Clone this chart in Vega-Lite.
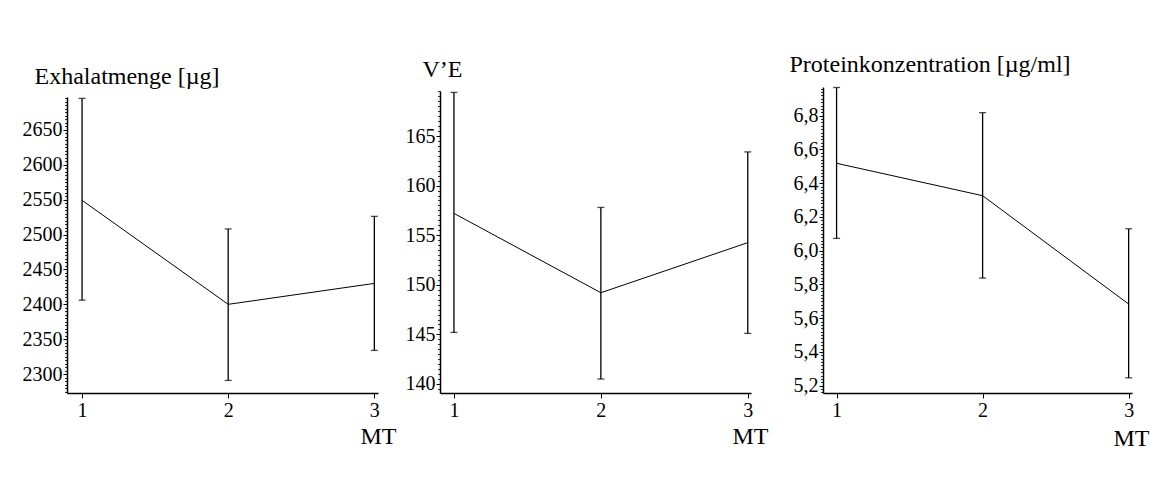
{
  "$schema": "https://vega.github.io/schema/vega-lite/v6.json",
  "background": "white",
  "padding": {"left": 22, "top": 52, "right": 5, "bottom": 5},
  "bounds": "flush",
  "spacing": 62,
  "config": {
    "view": {"stroke": null},
    "axis": {"grid": false, "labelFont": "Liberation Serif", "titleFont": "Liberation Serif", "labelColor": "black", "titleColor": "black", "tickColor": "black", "domainColor": "black", "titleFontWeight": "normal", "labelOverlap": false, "labelBound": false},
    "style": {"guide-label": {"font": "Liberation Serif", "fill": "black"}, "guide-title": {"font": "Liberation Serif", "fill": "black", "fontWeight": "normal"}}
  },
  "datasets": {
    "p1": [
      {"MT": 1, "mean": 2549, "lo": 2406, "hi": 2695},
      {"MT": 2, "mean": 2400, "lo": 2291, "hi": 2508},
      {"MT": 3, "mean": 2430, "lo": 2334, "hi": 2526}
    ],
    "p2": [
      {"MT": 1, "mean": 157.2, "lo": 145.2, "hi": 169.4},
      {"MT": 2, "mean": 149.2, "lo": 140.5, "hi": 157.8},
      {"MT": 3, "mean": 154.25, "lo": 145.1, "hi": 163.4}
    ],
    "p3": [
      {"MT": 1, "mean": 6.518, "lo": 6.073, "hi": 6.967},
      {"MT": 2, "mean": 6.326, "lo": 5.838, "hi": 6.818},
      {"MT": 3, "mean": 5.684, "lo": 5.247, "hi": 6.13}
    ]
  },
  "hconcat": [
    {
      "width": 311, "height": 307,
      "data": {"name": "p1"},
      "resolve": {"axis": {"y": "independent"}},
      "layer": [
        {
          "mark": {"type": "line", "color": "black", "strokeWidth": 1},
          "encoding": {
            "x": {"field": "MT", "type": "quantitative", "scale": {"domain": [0.897, 3.025], "nice": false, "zero": false},
              "axis": {"orient": "bottom", "values": [1, 2, 3], "labelExpr": "format(datum.value, '.0f')", "tickSize": 5, "labelPadding": 2, "labelFont": "Liberation Serif", "labelFontSize": 20, "labelOverlap": false, "domainWidth": 1.5, "title": "MT", "titleFont": "Liberation Serif", "titleFontSize": 24, "titleAlign": "center", "titleBaseline": "alphabetic", "titleX": 311, "titleY": 50, "labelFlush": false}},
            "y": {"field": "mean", "type": "quantitative", "scale": {"domain": [2273, 2697], "nice": false, "zero": false, "range": [307, 11]},
              "axis": {"orient": "left", "values": [2300, 2350, 2400, 2450, 2500, 2550, 2600, 2650], "labelExpr": "format(datum.value, '.0f')", "tickSize": 4, "labelPadding": 1, "labelFont": "Liberation Serif", "labelFontSize": 20, "domainWidth": 1.5, "labelOverlap": false, "title": "Exhalatmenge [µg]", "titleFont": "Liberation Serif", "titleFontSize": 24, "titleAngle": 0, "titleAlign": "left", "titleBaseline": "alphabetic", "titleX": -33, "titleY": -3}}
          }
        },
        {
          "mark": {"type": "rule", "color": "black", "strokeWidth": 1.3},
          "encoding": {
            "x": {"field": "MT", "type": "quantitative"},
            "y": {"field": "lo", "type": "quantitative", "axis": {"orient": "left", "tickCount": 85, "labels": false, "domain": false, "title": null, "tickSize": 2.5, "tickWidth": 0.8}},
            "y2": {"field": "hi"}
          }
        },
        {
          "mark": {"type": "tick", "orient": "horizontal", "color": "black", "size": 7, "thickness": 1.3},
          "encoding": {"x": {"field": "MT", "type": "quantitative"}, "y": {"field": "lo", "type": "quantitative", "axis": null}}
        },
        {
          "mark": {"type": "tick", "orient": "horizontal", "color": "black", "size": 7, "thickness": 1.3},
          "encoding": {"x": {"field": "MT", "type": "quantitative"}, "y": {"field": "hi", "type": "quantitative", "axis": null}}
        }
      ]
    },
    {
      "width": 321, "height": 307,
      "data": {"name": "p2"},
      "resolve": {"axis": {"y": "independent"}},
      "layer": [
        {
          "mark": {"type": "line", "color": "black", "strokeWidth": 1},
          "encoding": {
            "x": {"field": "MT", "type": "quantitative", "scale": {"domain": [0.905, 3.022], "nice": false, "zero": false, "range": [0, 311]},
              "axis": {"orient": "bottom", "values": [1, 2, 3], "labelExpr": "format(datum.value, '.0f')", "tickSize": 5, "labelPadding": 2, "labelFont": "Liberation Serif", "labelFontSize": 20, "labelOverlap": false, "domainWidth": 1.5, "title": "MT", "titleFont": "Liberation Serif", "titleFontSize": 24, "titleAlign": "center", "titleBaseline": "alphabetic", "titleX": 310, "titleY": 50, "labelFlush": false}},
            "y": {"field": "mean", "type": "quantitative", "scale": {"domain": [139.09, 169.54], "nice": false, "zero": false, "range": [307, 5]},
              "axis": {"orient": "left", "values": [140, 145, 150, 155, 160, 165], "labelExpr": "format(datum.value, '.0f')", "tickSize": 4, "labelPadding": 1, "labelFont": "Liberation Serif", "labelFontSize": 20, "domainWidth": 1.5, "labelOverlap": false, "title": "V’E", "titleFont": "Liberation Serif", "titleFontSize": 24, "titleAngle": 0, "titleAlign": "left", "titleBaseline": "alphabetic", "titleX": -18, "titleY": -10}}
          }
        },
        {
          "mark": {"type": "rule", "color": "black", "strokeWidth": 1.3},
          "encoding": {
            "x": {"field": "MT", "type": "quantitative"},
            "y": {"field": "lo", "type": "quantitative", "axis": {"orient": "left", "tickCount": 61, "labels": false, "domain": false, "title": null, "tickSize": 2.5, "tickWidth": 0.8}},
            "y2": {"field": "hi"}
          }
        },
        {
          "mark": {"type": "tick", "orient": "horizontal", "color": "black", "size": 7, "thickness": 1.3},
          "encoding": {"x": {"field": "MT", "type": "quantitative"}, "y": {"field": "lo", "type": "quantitative", "axis": null}}
        },
        {
          "mark": {"type": "tick", "orient": "horizontal", "color": "black", "size": 7, "thickness": 1.3},
          "encoding": {"x": {"field": "MT", "type": "quantitative"}, "y": {"field": "hi", "type": "quantitative", "axis": null}}
        }
      ]
    },
    {
      "width": 309, "height": 307,
      "data": {"name": "p3"},
      "resolve": {"axis": {"y": "independent"}},
      "layer": [
        {
          "mark": {"type": "line", "color": "black", "strokeWidth": 1},
          "encoding": {
            "x": {"field": "MT", "type": "quantitative", "scale": {"domain": [0.907, 3.023], "nice": false, "zero": false},
              "axis": {"orient": "bottom", "values": [1, 2, 3], "labelExpr": "format(datum.value, '.0f')", "tickSize": 5, "labelPadding": 2, "labelFont": "Liberation Serif", "labelFontSize": 20, "labelOverlap": false, "domainWidth": 1.5, "title": "MT", "titleFont": "Liberation Serif", "titleFontSize": 24, "titleAlign": "center", "titleBaseline": "alphabetic", "titleX": 308, "titleY": 52, "labelFlush": false}},
            "y": {"field": "mean", "type": "quantitative", "scale": {"domain": [5.157, 6.97], "nice": false, "zero": false, "range": [307, 1]},
              "axis": {"orient": "left", "values": [5.2, 5.4, 5.6, 5.8, 6.0, 6.2, 6.4, 6.6, 6.8], "labelExpr": "replace(format(datum.value, '.1f'), '.', ',')", "tickSize": 4, "labelPadding": 1, "labelFont": "Liberation Serif", "labelFontSize": 20, "domainWidth": 1.5, "labelOverlap": false, "title": "Proteinkonzentration [µg/ml]", "titleFont": "Liberation Serif", "titleFontSize": 24, "titleAngle": 0, "titleAlign": "left", "titleBaseline": "alphabetic", "titleX": -34, "titleY": -15}}
          }
        },
        {
          "mark": {"type": "rule", "color": "black", "strokeWidth": 1.3},
          "encoding": {
            "x": {"field": "MT", "type": "quantitative"},
            "y": {"field": "lo", "type": "quantitative", "axis": {"orient": "left", "tickCount": 90, "labels": false, "domain": false, "title": null, "tickSize": 2.5, "tickWidth": 0.8}},
            "y2": {"field": "hi"}
          }
        },
        {
          "mark": {"type": "tick", "orient": "horizontal", "color": "black", "size": 7, "thickness": 1.3},
          "encoding": {"x": {"field": "MT", "type": "quantitative"}, "y": {"field": "lo", "type": "quantitative", "axis": null}}
        },
        {
          "mark": {"type": "tick", "orient": "horizontal", "color": "black", "size": 7, "thickness": 1.3},
          "encoding": {"x": {"field": "MT", "type": "quantitative"}, "y": {"field": "hi", "type": "quantitative", "axis": null}}
        }
      ]
    }
  ]
}
